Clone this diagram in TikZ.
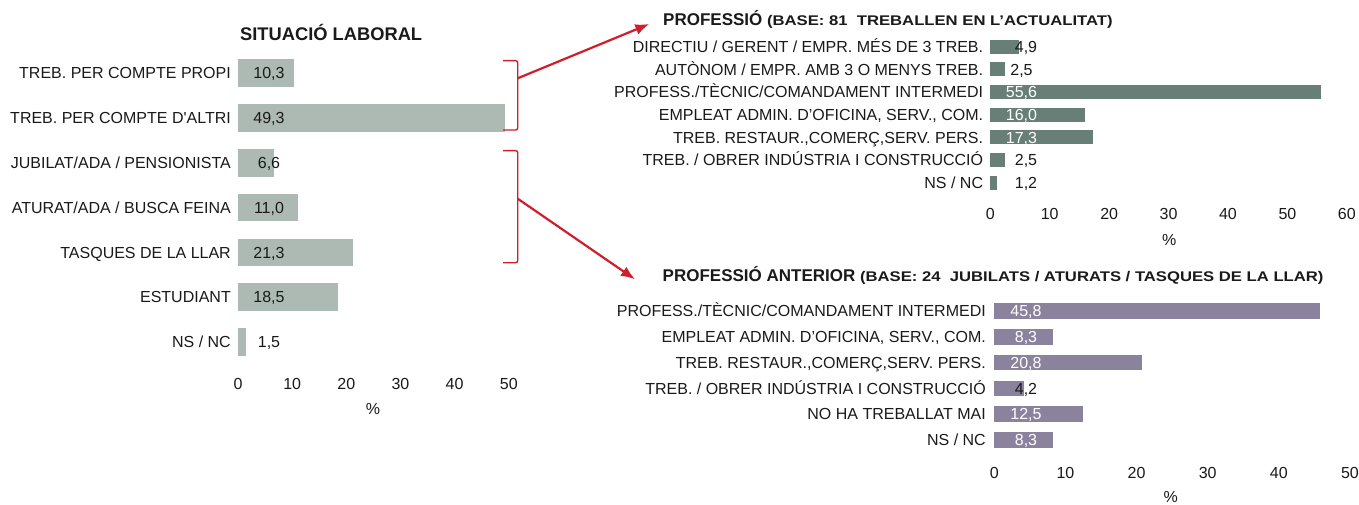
\documentclass[tikz,border=0pt]{standalone}
\usepackage{fontspec}
\setmainfont{Liberation Sans}
\newfontfamily\arial{Liberation Sans}
\newfontfamily\arialbold{Liberation Sans Bold}
\newfontfamily\subbold[FakeStretch=1.19]{Liberation Sans Bold}
\usetikzlibrary{arrows.meta}
\definecolor{barL}{HTML}{ADBAB3}
\definecolor{barT}{HTML}{687F77}
\definecolor{barB}{HTML}{8B829D}
\definecolor{redarr}{HTML}{D01E2D}
\definecolor{txt}{HTML}{1A1A1A}
\begin{document}
\begin{tikzpicture}[x=1pt,y=-1pt,
  lab/.style={font=\arial\fontsize{16}{18}\selectfont, text=txt, inner sep=0pt, anchor=base east},
  val/.style={font=\arial\fontsize{16}{18}\selectfont, text=txt, inner sep=0pt, anchor=base},
  wval/.style={val, text=white},
  ttl/.style={font=\arialbold\fontsize{17}{20}\selectfont, text=txt, inner sep=0pt, anchor=base west},
  brk/.style={draw=redarr, line width=1.4pt, rounded corners=2pt},
  arr/.style={draw=redarr, line width=2.2pt, -{Latex[length=14pt,width=11pt]}}]
\useasboundingbox (0,0) rectangle (1359,505);
\fill[white] (0,0) rectangle (1359,505);

% ---------------- Left chart: SITUACIO LABORAL
\node[ttl, font=\arialbold\fontsize{18.3}{22}\selectfont] (tL) at (240,40.7) {SITUACIÓ LABORAL};

\fill[barL] (238,59.15) rectangle (293.8,86.85);
\fill[barL] (238,104.0) rectangle (505.0,131.7);
\fill[barL] (238,148.85) rectangle (273.7,176.55);
\fill[barL] (238,193.7) rectangle (297.6,221.4);
\fill[barL] (238,238.55) rectangle (353.4,266.25);
\fill[barL] (238,283.4) rectangle (338.2,311.1);
\fill[barL] (238,328.25) rectangle (246.1,355.95);

\node[lab] (l1) at (231,78.7) {TREB. PER COMPTE PROPI};
\node[lab] (l2) at (231,123.55) {TREB. PER COMPTE D{\char"0027}ALTRI};
\node[lab] (l3) at (231,168.4) {JUBILAT/ADA / PENSIONISTA};
\node[lab] (l4) at (231,213.25) {ATURAT/ADA / BUSCA FEINA};
\node[lab] (l5) at (231,258.1) {TASQUES DE LA LLAR};
\node[lab] (l6) at (231,302.95) {ESTUDIANT};
\node[lab] (l7) at (231,347.8) {NS / NC};

\node[val] (v1) at (269,78.7) {10,3};
\node[val] (v2) at (269,123.55) {49,3};
\node[val] (v3) at (269,168.4) {6,6};
\node[val] (v4) at (269,213.25) {11,0};
\node[val] (v5) at (269,258.1) {21,3};
\node[val] (v6) at (269,302.95) {18,5};
\node[val] (v7) at (269,347.8) {1,5};

\foreach \k [evaluate=\k as \t using int(10*\k)] in {0,...,5}
  \node[val] (lt\k) at ({238+54.16*\k},389.7) {\t};
\node[val] (lpct) at (373,414.7) {\%};

% brackets and arrows
\draw[brk] (503,60.7) -- (517.7,60.7) -- (517.7,130) -- (503,130);
\draw[brk] (503,150.7) -- (517.7,150.7) -- (517.7,262.7) -- (503,262.7);
\coordinate (b1) at (517.7,78.3);
\coordinate (a1) at (649.3,24);
\coordinate (b2) at (517.7,198.7);
\coordinate (a2) at (635,279.3);
\draw[arr] (b1) -- (a1);
\draw[arr] (b2) -- (a2);

% ---------------- Top right chart: PROFESSIO
\node[ttl] (tT) at (663,25.7) {PROFESSIÓ {\subbold\fontsize{14}{17}\selectfont (BASE: 81\ \ TREBALLEN EN L’ACTUALITAT)}};

\fill[barT] (990.3,39.7) rectangle (1019.4,53.7);
\fill[barT] (990.3,62.37) rectangle (1005.2,76.37);
\fill[barT] (990.3,85.04) rectangle (1320.7,99.04);
\fill[barT] (990.3,107.71) rectangle (1085.4,121.71);
\fill[barT] (990.3,130.38) rectangle (1093.1,144.38);
\fill[barT] (990.3,153.05) rectangle (1005.2,167.05);
\fill[barT] (990.3,175.72) rectangle (997.4,189.72);

\node[lab] (tl1) at (983.3,52.4) {DIRECTIU / GERENT / EMPR. MÉS DE 3 TREB.};
\node[lab] (tl2) at (983.3,75.07) {AUTÒNOM / EMPR. AMB 3 O MENYS TREB.};
\node[lab] (tl3) at (983.3,97.74) {PROFESS./TÈCNIC/COMANDAMENT INTERMEDI};
\node[lab] (tl4) at (983.3,120.41) {EMPLEAT ADMIN. D’OFICINA, SERV., COM.};
\node[lab] (tl5) at (983.3,143.08) {TREB. RESTAUR.,COMERÇ,SERV. PERS.};
\node[lab] (tl6) at (983.3,165.75) {TREB. / OBRER INDÚSTRIA I CONSTRUCCIÓ};
\node[lab] (tl7) at (983.3,188.42) {NS / NC};

\node[val] (tv1) at (1026,52.4) {4,9};
\node[val] (tv2) at (1021.5,75.07) {2,5};
\node[wval] (tv3) at (1021.5,97.74) {55,6};
\node[wval] (tv4) at (1021.5,120.41) {16,0};
\node[wval] (tv5) at (1021.5,143.08) {17,3};
\node[val] (tv6) at (1026,165.75) {2,5};
\node[val] (tv7) at (1026,188.42) {1,2};

\foreach \k [evaluate=\k as \t using int(10*\k)] in {0,...,6}
  \node[val] (tt\k) at ({990.3+59.42*\k},219) {\t};
\node[val] (tpct) at (1169.3,245.7) {\%};

% ---------------- Bottom right chart: PROFESSIO ANTERIOR
\node[ttl] (tB) at (662.5,281.7) {PROFESSIÓ ANTERIOR {\subbold\fontsize{14}{17}\selectfont (BASE: 24\ \ JUBILATS / ATURATS / TASQUES DE LA LLAR)}};

\fill[barB] (994.3,303.4) rectangle (1320.0,319.0);
\fill[barB] (994.3,329.1) rectangle (1053.3,344.7);
\fill[barB] (994.3,354.8) rectangle (1142.2,370.4);
\fill[barB] (994.3,380.5) rectangle (1024.2,396.1);
\fill[barB] (994.3,406.2) rectangle (1083.2,421.8);
\fill[barB] (994.3,431.9) rectangle (1053.3,447.5);

\node[lab] (bl1) at (986,316.9) {PROFESS./TÈCNIC/COMANDAMENT INTERMEDI};
\node[lab] (bl2) at (986,342.6) {EMPLEAT ADMIN. D’OFICINA, SERV., COM.};
\node[lab] (bl3) at (986,368.3) {TREB. RESTAUR.,COMERÇ,SERV. PERS.};
\node[lab] (bl4) at (986,394.0) {TREB. / OBRER INDÚSTRIA I CONSTRUCCIÓ};
\node[lab] (bl5) at (986,419.7) {NO HA TREBALLAT MAI};
\node[lab] (bl6) at (986,445.4) {NS / NC};

\node[wval] (bv1) at (1026,316.9) {45,8};
\node[wval] (bv2) at (1026,342.6) {8,3};
\node[wval] (bv3) at (1026,368.3) {20,8};
\node[val] (bv4) at (1026,394.0) {4,2};
\node[wval] (bv5) at (1026,419.7) {12,5};
\node[wval] (bv6) at (1026,445.4) {8,3};

\foreach \k [evaluate=\k as \t using int(10*\k)] in {0,...,5}
  \node[val] (bt\k) at ({994.3+71.12*\k},478.4) {\t};
\node[val] (bpct) at (1170.7,502.5) {\%};
\end{tikzpicture}
\end{document}
